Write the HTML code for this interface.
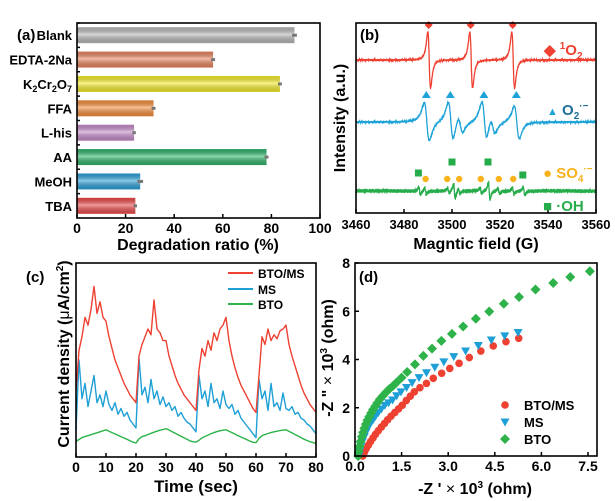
<!DOCTYPE html>
<html><head><meta charset="utf-8"><style>
html,body{margin:0;padding:0;background:#fff;}
svg{display:block;font-family:"Liberation Sans",Arial,sans-serif;font-weight:bold;}
</style></head><body>
<svg id="fig" width="615" height="501" viewBox="0 0 615 501" xmlns="http://www.w3.org/2000/svg">
<defs>
<linearGradient id="gshine" x1="0" y1="0" x2="0" y2="1">
<stop offset="0" stop-color="#000" stop-opacity="0.12"/><stop offset="0.45" stop-color="#fff" stop-opacity="0.45"/><stop offset="1" stop-color="#000" stop-opacity="0.15"/>
</linearGradient>
</defs>
<g id="pa"></g>
<g id="pb"></g>
<g id="pc"></g>
<g id="pd"></g>
</svg>
<script>
// ---- Panel (a) data ----
const aCategories = ["Blank","EDTA-2Na","K2Cr2O7","FFA","L-his","AA","MeOH","TBA"];
const aValues = [89.5,56,83.5,31.5,23.5,78,26,24];
const aErrors = [1,0.8,0.8,0.8,0.7,0.8,1.2,0.7];
const aColors = ["#b8b8b8","#e8845e","#f4ec2a","#f58f3c","#c58cc9","#2fb36a","#2aa0d8","#ec4a4a"];
const aTicks = [0,20,40,60,80,100];
// ---- Panel (b) data ----
const bXTicks = [3460,3480,3500,3520,3540,3560];
const bRedCenters = [3490.5,3508,3525.5];
const bRedAmps = [1,1,1];
const bBlueCenters = [3489.5,3499.5,3503.5,3513.5,3517,3527];
const bBlueAmps = [1,1,0.45,1,0.45,0.85];
const bGreenCenters = [3486.5,3489,3498.5,3501,3503,3512,3515.5,3519.5,3525.5,3530];
const bGreenAmps = [0.45,0.35,0.3,0.8,0.3,0.3,0.95,0.3,0.35,0.45];
// ---- Panel (c) data ----
const cTime = [];for(let i=0;i<=80;i++)cTime.push(i);
const cBTOMS = [34,55,62,72,68,76,88,74,80,72,70,62,56,50,46,42,38,35,32,30,28,52,58,62,66,63,81,66,64,60,60,52,47,42,38,35,32,30,28,26,24,45,56,52,60,55,64,60,66,68,72,60,52,46,41,37,34,31,28,25,23,42,62,58,66,60,63,61,65,66,68,58,52,47,42,37,33,30,27,25,23];
const cMS = [14,50,30,38,26,34,42,28,32,26,34,27,24,28,22,25,21,23,19,17,15,51,32,36,28,40,30,34,27,31,26,28,24,26,21,23,20,18,17,15,13,42,30,34,26,38,28,30,25,34,27,25,27,22,24,20,18,16,14,12,10,40,30,34,24,38,26,28,24,33,25,24,26,22,23,20,19,17,16,14,12];
const cBTO = [8,9,10,10.5,11,11.5,12,12.5,13,13.5,14,13.3,12.6,11.9,11.2,10.5,9.8,9.1,8.4,7.7,7.2,9.4,10.5,11,11.6,12.2,12.8,13.3,13.8,14.2,14.6,13.9,13.1,12.3,11.5,10.7,9.9,9.1,8.3,7.9,7.7,8.6,9.8,10.6,11.3,12,12.6,13.1,13.5,13.8,14,13.3,12.6,11.8,11,10.3,9.6,8.9,8.2,7.6,7.4,9.6,11,11.6,12.1,12.6,13,13.3,13.6,13.8,14,13.2,12.4,11.6,10.8,10,9.2,8.5,7.9,7.4,7];
const cTicks = [0,10,20,30,40,50,60,70,80];
// ---- Panel (d) data ----
const dRedX = [0.25,0.3,0.36,0.43,0.5,0.58,0.66,0.75,0.85,0.95,1.05,1.16,1.28,1.4,1.52,1.65,1.78,1.91,2.09,2.3,2.52,2.79,3.05,3.35,3.68,4.05,4.45,4.86,5.27];
const dRedY = [0,0.15,0.3,0.45,0.6,0.75,0.9,1.05,1.2,1.35,1.5,1.65,1.8,1.95,2.1,2.3,2.48,2.66,2.83,3.01,3.22,3.43,3.63,3.84,4.08,4.35,4.56,4.74,4.88];
const dMSX = [0.12,0.15,0.19,0.24,0.3,0.36,0.43,0.5,0.58,0.66,0.75,0.85,0.96,1.08,1.21,1.34,1.48,1.66,1.84,2.06,2.3,2.57,2.86,3.18,3.56,3.97,4.39,4.82,5.25];
const dMSY = [0,0.2,0.4,0.6,0.8,1.0,1.2,1.35,1.5,1.65,1.8,1.95,2.1,2.2,2.32,2.5,2.66,2.84,3.04,3.25,3.45,3.68,3.9,4.12,4.35,4.58,4.81,4.98,5.12];
const dBTOX = [0.1,0.12,0.15,0.18,0.22,0.26,0.3,0.35,0.4,0.46,0.52,0.58,0.65,0.72,0.8,0.9,1.0,1.1,1.22,1.34,1.5,1.68,1.93,2.2,2.48,2.78,3.12,3.48,3.89,4.32,4.79,5.28,5.81,6.38,6.93,7.56];
const dBTOY = [0,0.2,0.4,0.6,0.8,0.98,1.15,1.32,1.48,1.63,1.78,1.92,2.06,2.2,2.35,2.5,2.64,2.77,2.9,3.05,3.25,3.48,3.8,4.15,4.45,4.77,5.06,5.37,5.69,5.99,6.31,6.59,6.9,7.17,7.42,7.66];
const dXTicks = [0,1.5,3.0,4.5,6.0,7.5];
const dYTicks = [0,2,4,6,8];

const NS="http://www.w3.org/2000/svg";
function mk(parent,tag,attrs,text){const e=document.createElementNS(NS,tag);for(const k in attrs)e.setAttribute(k,attrs[k]);if(text!==undefined)e.textContent=text;parent.appendChild(e);return e;}
function lin(d0,d1,r0,r1){return v=>r0+(v-d0)/(d1-d0)*(r1-r0);}

// ================= Panel A =================
(function(){
const g=document.getElementById('pa');
const L=77,R=320,T=23,B=218;
const x=lin(0,100,L,R);
const band=(B-T)/aCategories.length;
const yc=i=>T+band*(i+0.5);
aCategories.forEach((c,i)=>{
  const w=x(aValues[i])-L, y0=yc(i)-8;
  const b=mk(g,'rect',{x:L,y:y0,width:w,height:16,fill:aColors[i]});
  
  
  const s=mk(g,'rect',{x:L,y:y0,width:w,height:16,fill:'url(#gshine)'});
  
  
  const e=mk(g,'line',{x1:x(aValues[i]-aErrors[i]),x2:x(aValues[i]+aErrors[i]),y1:yc(i),y2:yc(i),stroke:'#777','stroke-width':3});
  
  
  const lab=mk(g,'text',{x:72,y:yc(i)+5,'text-anchor':'end','font-size':13});
  
  
  if(c==="K2Cr2O7"){lab.innerHTML='K<tspan font-size="9" dy="3">2</tspan><tspan dy="-3">Cr</tspan><tspan font-size="9" dy="3">2</tspan><tspan dy="-3">O</tspan><tspan font-size="9" dy="3">7</tspan>';}
  else lab.textContent=c;
  const tk=mk(g,'line',{x1:L,x2:L+3,y1:T+band*(i),y2:T+band*i,stroke:'#000','stroke-width':1.5});
  
  
});
const fr=mk(g,'rect',{x:L,y:T,width:R-L,height:B-T,fill:'none',stroke:'#000','stroke-width':1.6});


aTicks.forEach(t=>{
  const l=mk(g,'line',{x1:x(t),x2:x(t),y1:B,y2:B-4,stroke:'#000','stroke-width':1.5});
  
  
  const tx=mk(g,'text',{x:x(t),y:B+15,'text-anchor':'middle','font-size':14},String(t));
  
  
});
const pl=mk(g,'text',{x:17,y:40,'font-size':15},'(a)');


const xt=mk(g,'text',{x:198,y:250,'text-anchor':'middle','font-size':16},'Degradation ratio (%)');


})();

// ================= Panel B =================
(function(){
const g=document.getElementById('pb');
const L=356,R=596,T=23,B=213;
const x=lin(3460,3560,L,R);
function shape(f,cs,as,w){let s=0;for(let i=0;i<cs.length;i++){const u=(f-cs[i])/w;s+=as[i]*(2*u/((1+u*u)*(1+u*u)));}return s;}
function trace(base,cs,as,w,scale,color,nm,noise){
  let d='';let k=0;
  for(let f=3460;f<=3560.001;f+=0.1){k++;const wig=noise*(Math.sin(k*1.7)+Math.sin(k*2.9)*0.7);
    const yv=base+scale*shape(f,cs,as,w)/0.65+wig; d+=(d?'L':'M')+x(f).toFixed(1)+','+yv.toFixed(1);}
  const p=mk(g,'path',{d:d,fill:'none',stroke:color,'stroke-width':1.3});
  
  
}
trace(60,bRedCenters,bRedAmps,1.0,28,'#ee4132','trace-1o2',0.6);
trace(122,bBlueCenters,bBlueAmps,1.8,19,'#1ea3d8','trace-o2-radical',0.6);
trace(191,bGreenCenters,bGreenAmps,0.6,9,'#27ac4c','trace-so4-oh',1.3);
bRedCenters.forEach(c=>{const m=mk(g,'path',{d:`M${x(c)-0.5},${21} l4,4 l-4,4 l-4,-4z`,fill:'#ee4132'});
 
 });
[0,1,3,5].forEach(i=>{const c=bBlueCenters[i];const m=mk(g,'path',{d:`M${x(c)-0.5},${91} l4.5,7 l-9,0z`,fill:'#1ea3d8'});
 
 });
[[3486,173],[3500,162],[3515,162],[3529.5,175]].forEach(p=>{const m=mk(g,'rect',{x:x(p[0])-3.5,y:p[1]-3.5,width:7,height:7,fill:'#27ac4c'});
 
 });
[3489,3498,3503,3512,3519.5,3525.5].forEach(c=>{const m=mk(g,'circle',{cx:x(c),cy:179,r:3.2,fill:'#f9b21b'});
 
 });
const fr=mk(g,'rect',{x:L,y:T,width:R-L,height:B-T,fill:'none',stroke:'#000','stroke-width':1.6});


bXTicks.forEach(t=>{
  const l=mk(g,'line',{x1:x(t),x2:x(t),y1:B,y2:B-4,stroke:'#000','stroke-width':1.5});
  
  
  const tx=mk(g,'text',{x:x(t),y:B+16,'text-anchor':'middle','font-size':13},String(t));
  
  
});
const pl=mk(g,'text',{x:360,y:40,'font-size':15},'(b)');


const leg=[{y:55,html:'<tspan fill="#ee4132">◆ </tspan><tspan fill="#ee4132" font-size="10" dy="-6">1</tspan><tspan fill="#ee4132" dy="6">O</tspan><tspan fill="#ee4132" font-size="10" dy="4">2</tspan>',x:544},
 {y:115,html:'<tspan fill="#1ea3d8" font-size="11">▲</tspan><tspan fill="#1e6e9a"> O</tspan><tspan fill="#1e6e9a" font-size="10" dy="4">2</tspan><tspan fill="#1e6e9a" font-size="10" dy="-10">·−</tspan>',x:547},
 {y:178,html:'<tspan fill="#f9b21b">● SO</tspan><tspan fill="#f9b21b" font-size="10" dy="4">4</tspan><tspan fill="#f9b21b" font-size="10" dy="-10">·−</tspan>',x:543},
 {y:211,html:'<tspan fill="#27ac4c">■ ·OH</tspan>',x:543}];
leg.forEach(l=>{const t=mk(g,'text',{x:l.x,y:l.y,'font-size':15});t.innerHTML=l.html;
 
 });
const yt=mk(g,'text',{x:0,y:0,'text-anchor':'middle','font-size':16,transform:'translate(345,118) rotate(-90)'},'Intensity (a.u.)');


const xt=mk(g,'text',{x:476,y:249,'text-anchor':'middle','font-size':16},'Magntic field (G)');


})();

// ================= Panel C =================
(function(){
const g=document.getElementById('pc');
const L=76,R=316,T=263,B=457;
const x=lin(0,80,L,R), y=lin(0,100,B,T);
function line(vals,color,nm){
  let d='';vals.forEach((v,i)=>{d+=(i?'L':'M')+x(cTime[i]).toFixed(1)+','+y(v).toFixed(1);});
  const p=mk(g,'path',{d:d,fill:'none',stroke:color,'stroke-width':1.4,'stroke-linejoin':'round'});
  
  
}
line(cBTO,'#2db34a','line-bto');
line(cMS,'#1e9fd6','line-ms');
line(cBTOMS,'#ee4132','line-bto-ms');
const fr=mk(g,'rect',{x:L,y:T,width:R-L,height:B-T,fill:'none',stroke:'#000','stroke-width':1.6});


cTicks.forEach(t=>{
  const l=mk(g,'line',{x1:x(t),x2:x(t),y1:B,y2:B-4,stroke:'#000','stroke-width':1.5});
  
  
  const tx=mk(g,'text',{x:x(t),y:B+15,'text-anchor':'middle','font-size':14},String(t));
  
  
});
[['BTO/MS','#ee4132',273],['MS','#1e9fd6',289],['BTO','#2db34a',304]].forEach(e=>{
  const l=mk(g,'line',{x1:228,x2:253,y1:e[2],y2:e[2],stroke:e[1],'stroke-width':2});
  
  
  const t=mk(g,'text',{x:258,y:e[2]+5,'font-size':12},e[0]);
  
  
});
const pl=mk(g,'text',{x:26,y:282,'font-size':15},'(c)');


const yt=mk(g,'text',{x:0,y:0,'text-anchor':'middle','font-size':16,transform:'translate(69,354) rotate(-90)'});
yt.innerHTML='Current density (<tspan font-weight="normal">μ</tspan>A/cm<tspan font-size="10" dy="-6">2</tspan><tspan dy="6">)</tspan>';


const xt=mk(g,'text',{x:196,y:492,'text-anchor':'middle','font-size':17},'Time (sec)');


})();

// ================= Panel D =================
(function(){
const g=document.getElementById('pd');
const L=355,R=597,T=263,B=456;
const x=lin(0,7.5,L,588), y=lin(0,8,B,T);
function marker(type,cx,cy,color){
  let m;
  if(type==='circle')m=mk(g,'circle',{cx:cx,cy:cy,r:3.8,fill:color});
  else if(type==='tri')m=mk(g,'path',{d:`M${cx-4.5},${cy-3.5} l9,0 l-4.5,8z`,fill:color});
  else m=mk(g,'path',{d:`M${cx},${cy-5} l5,5 l-5,5 l-5,-5z`,fill:color});
  return m;
}
[[dRedX,dRedY,'circle','#ee4132','point-bto-ms'],[dMSX,dMSY,'tri','#1e9fd6','point-ms'],[dBTOX,dBTOY,'dia','#2db34a','point-bto']].forEach(s=>{
  s[0].forEach((v,i)=>{const m=marker(s[2],x(v),y(s[1][i]),s[3]);
    
    });
});
const fr=mk(g,'rect',{x:L,y:T,width:R-L,height:B-T,fill:'none',stroke:'#000','stroke-width':1.6});


dXTicks.forEach(t=>{
  const l=mk(g,'line',{x1:x(t),x2:x(t),y1:B,y2:B-4,stroke:'#000','stroke-width':1.5});
  
  
  const tx=mk(g,'text',{x:x(t),y:B+15,'text-anchor':'middle','font-size':14},t.toFixed(1));
  
  
});
dYTicks.forEach(t=>{
  const l=mk(g,'line',{x1:L,x2:L+4,y1:y(t),y2:y(t),stroke:'#000','stroke-width':1.5});
  
  
  const tx=mk(g,'text',{x:L-5,y:y(t)+5,'text-anchor':'end','font-size':14},String(t));
  
  
});
[['BTO/MS','circle','#ee4132',405],['MS','tri','#1e9fd6',422],['BTO','dia','#2db34a',439]].forEach(e=>{
  const m=marker(e[1],505,e[3],e[2]);
  
  
  const t=mk(g,'text',{x:524,y:e[3]+5,'font-size':13},e[0]);
  
  
});
const pl=mk(g,'text',{x:359,y:282,'font-size':15},'(d)');


const yt=mk(g,'text',{x:0,y:0,'text-anchor':'middle','font-size':16,transform:'translate(333,358) rotate(-90)'});
yt.innerHTML='-Z " <tspan font-weight="normal">×</tspan> 10<tspan font-size="10" dy="-6">3</tspan><tspan dy="6"> (ohm)</tspan>';


const xt=mk(g,'text',{x:475,y:494,'text-anchor':'middle','font-size':16});
xt.innerHTML='-Z \' <tspan font-weight="normal">×</tspan> 10<tspan font-size="10" dy="-6">3</tspan><tspan dy="6"> (ohm)</tspan>';


})();
</script>
</body></html>
